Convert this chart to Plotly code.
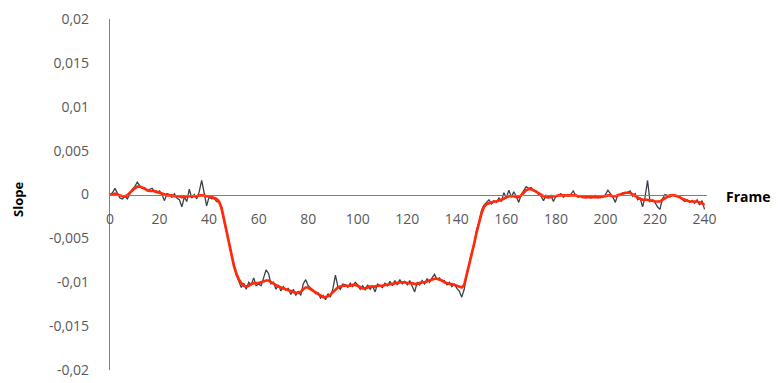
import plotly.graph_objects as go

# Frame numbers 0..240
frames = list(range(0, 241))

# Raw slope (dark grey), in units of 1e-4
raw_e4 = [
    0, 2, 7, 1, -4, -5, -2, -5, 1, 6,
    9, 14, 10, 7, 8, 4, 6, 7, 3, 2,
    4, 0, -7, 1, 0, -3, 1, -4, -6, -14,
    -3, -8, 6, -4, 0, -5, 3, 16, 2, -13,
    -3, -5, -4, -8, -9, -17, -30, -43, -55, -70,
    -82, -92, -99, -106, -101, -108, -100, -103, -95, -104,
    -102, -104, -95, -86, -90, -102, -100, -108, -103, -110,
    -105, -109, -107, -114, -108, -115, -110, -115, -102, -97,
    -104, -106, -109, -113, -112, -118, -115, -120, -113, -117,
    -107, -92, -105, -108, -102, -103, -106, -101, -105, -100,
    -103, -108, -104, -109, -103, -108, -104, -111, -102, -104,
    -106, -101, -104, -99, -104, -98, -103, -97, -102, -99,
    -103, -98, -104, -111, -100, -103, -98, -102, -96, -100,
    -95, -91, -97, -95, -99, -98, -103, -100, -105, -102,
    -107, -110, -117, -108, -90, -80, -66, -58, -40, -32,
    -18, -12, -9, -6, -11, -7, -9, -4, -8, 2,
    -4, 5, -3, 3, -2, -9, 0, 4, 9, 7,
    8, 4, 4, 0, -2, -7, -1, -4, -1, -8,
    -2, -1, 1, -3, -1, -2, 0, 4, -1, -3,
    -1, -2, -4, -2, -4, -3, -1, -4, -2, -3,
    0, 5, 1, -3, -9, 0, -1, 2, 1, 3,
    4, -2, 1, -6, -4, -14, -3, 16, -8, -6,
    -9, -14, -17, -5, 0, -1, -3, 0, -2, -1,
    -3, -5, -8, -6, -9, -7, -10, -6, -12, -7,
    -17,
]

# Smoothed slope (red), in units of 1e-4
smooth_e4 = [
    0, 0, 1, 0, -1, -2, -2, -1, 2, 5,
    7, 9, 9, 8, 6, 5, 4, 4, 4, 3,
    2, 1, 0, -1, -1, -1, -2, -2, -2, -3,
    -3, -2, -2, -2, -2, -2, -1, -1, -1, -2,
    -2, -3, -4, -5, -8, -15, -28, -42, -56, -69,
    -81, -90, -97, -101, -104, -105, -104, -102, -101, -101,
    -101, -100, -99, -98, -98, -100, -102, -104, -105, -106,
    -107, -108, -109, -110, -111, -112, -112, -111, -108, -106,
    -106, -108, -110, -112, -114, -116, -117, -117, -116, -114,
    -111, -108, -106, -105, -104, -104, -104, -104, -103, -103,
    -104, -106, -107, -107, -106, -105, -105, -105, -104, -104,
    -104, -103, -103, -102, -102, -101, -101, -100, -100, -100,
    -101, -101, -101, -102, -102, -101, -100, -100, -99, -98,
    -97, -96, -96, -97, -98, -100, -101, -102, -102, -103,
    -104, -105, -106, -103, -92, -79, -68, -56, -43, -31,
    -21, -14, -11, -10, -9, -8, -8, -7, -6, -5,
    -3, -2, -2, -2, -3, -3, -1, 2, 5, 6,
    6, 5, 3, 1, -1, -2, -3, -3, -3, -2,
    -2, -1, -1, -1, -1, -1, -1, -1, -1, -2,
    -2, -3, -3, -3, -3, -3, -3, -3, -3, -2,
    -2, -1, -1, -2, -2, -1, 0, 1, 2, 2,
    2, 0, -2, -4, -5, -6, -6, -6, -7, -7,
    -8, -8, -8, -6, -4, -2, -1, -1, -1, -2,
    -3, -5, -6, -7, -8, -8, -8, -8, -9, -10,
    -12,
]

scale = 1e-4
raw = [v * scale for v in raw_e4]
smooth = [v * scale for v in smooth_e4]

y_tickvals = [0.02, 0.015, 0.01, 0.005, 0, -0.005, -0.01, -0.015, -0.02]
y_ticktext = ["0,02", "0,015", "0,01", "0,005", "0", "-0,005", "-0,01", "-0,015", "-0,02"]
x_tickvals = [0, 20, 40, 60, 80, 100, 120, 140, 160, 180, 200, 220, 240]
x_ticktext = [str(v) for v in x_tickvals]

fig = go.Figure()
fig.add_trace(go.Scatter(x=frames, y=raw, mode="lines",
                         line=dict(color="#3b424a", width=1.3), name="raw"))
fig.add_trace(go.Scatter(x=frames, y=smooth, mode="lines",
                         line=dict(color="#ff2a0a", width=2.7), name="smooth"))

font_family = "Open Sans, Segoe UI, sans-serif"

# page body has an 8px default margin; the figure is sized to fit the window
W, H = 771, 375
L, R, T, B = 102, 72, 11, 13

fig.update_layout(
    width=W, height=H,
    margin=dict(l=L, r=R, t=T, b=B),
    paper_bgcolor="white", plot_bgcolor="white",
    showlegend=False,
    font=dict(family=font_family, size=13, color="#595959"),
    xaxis=dict(range=[0, 241], tickvals=x_tickvals, ticktext=x_ticktext,
               showgrid=False, zeroline=False, showline=True,
               linecolor="#7f7f7f", linewidth=1.2,
               anchor="free", position=0.5, automargin=False,
               ticks="outside", ticklen=12, tickcolor="rgba(0,0,0,0)",
               ticklabeloverflow="allow",
               tickfont=dict(size=14, color="#595959")),
    yaxis=dict(range=[-0.02, 0.02], tickvals=y_tickvals, ticktext=y_ticktext,
               showgrid=False, zeroline=False, showline=True,
               linecolor="#7f7f7f", linewidth=1.2, automargin=False,
               ticks="outside", ticklen=17, tickcolor="rgba(0,0,0,0)",
               ticklabeloverflow="allow",
               tickfont=dict(size=14, color="#595959")),
    annotations=[
        dict(text="<b>Slope</b>", x=18, y=200, xref="paper", yref="paper",
             showarrow=False, textangle=-90, font=dict(size=13, color="#000000"),
             xanchor="center", yanchor="middle"),
        dict(text="<b>Frame</b>", x=724, y=196, xref="paper", yref="paper",
             showarrow=False, font=dict(size=14, color="#000000"),
             xanchor="left", yanchor="middle"),
    ],
)

# Convert window pixel positions of annotations to paper coords
pw = W - L - R
ph = H - T - B
for a in fig.layout.annotations:
    px, py = a.x, a.y
    a.x = (px - 8 - L) / pw
    a.y = (H - B - (py - 8)) / ph

fig.write_html("out.html")
